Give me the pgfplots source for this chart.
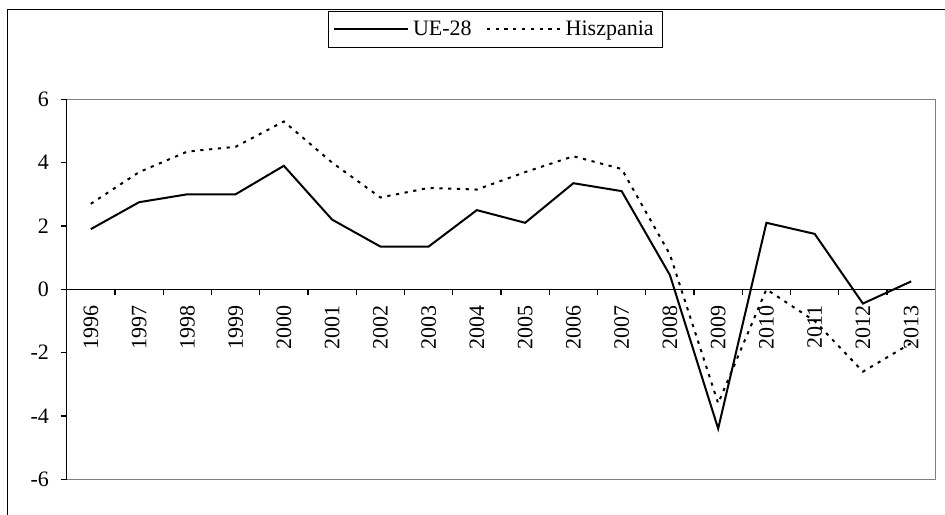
\documentclass[border=0pt]{standalone}
\usepackage{fontspec}
\setmainfont{Liberation Serif}
\usepackage{pgfplots}
\pgfplotsset{compat=1.18}
\begin{document}
\fontsize{11}{13.2}\selectfont
\begin{tikzpicture}[x=1pt,y=1pt]
\useasboundingbox (0,0) rectangle (472.5,-257);
\draw[line width=0.7pt] (3.65,-4.65) rectangle (490,-300);
\begin{axis}[
  at={(33.35pt,-239.65pt)}, anchor=south west,
  scale only axis, width=434.3pt, height=190pt,
  xmin=-0.5, xmax=17.5, ymin=-6, ymax=6,
  axis x line*=middle, axis y line*=left,
  axis line style={black, line width=0.6pt},
  /pgf/number format/assume math mode=true,
  ytick={-6,-4,...,6},
  xtick={0,...,17},
  xticklabels={1996,1997,1998,1999,2000,2001,2002,2003,2004,2005,2006,2007,2008,2009,2010,2011,2012,2013},
  minor xtick={0.5,1.5,...,17.5},
  major x tick style={draw=none},
  minor tick length=3pt, major tick length=3pt,
  tick align=outside,
  tick style={black, line width=0.6pt},
  xticklabel style={rotate=90, anchor=east, inner sep=1pt},
  xticklabel shift=4pt,
  yticklabel style={xshift=-2pt},
  legend style={at={(0.4935,1.1837)}, anchor=center, legend columns=2,
    draw=black, line width=0.5pt, inner sep=2.5pt,
    /tikz/every even column/.append style={column sep=5pt}},
  legend image code/.code={\draw[#1] (0pt,0pt) -- (37pt,0pt);},
  clip=false,
]
\draw[gray, line width=0.75pt] (rel axis cs:0,0) -- (rel axis cs:1,0) -- (rel axis cs:1,1) -- (rel axis cs:0,1);
\addplot[black, line width=1pt] coordinates {
(0,1.9) (1,2.75) (2,3.0) (3,3.0) (4,3.9) (5,2.2) (6,1.35) (7,1.35) (8,2.5) (9,2.1) (10,3.35) (11,3.1) (12,0.45) (13,-4.4) (14,2.1) (15,1.75) (16,-0.45) (17,0.25)};
\addlegendentry{UE-28}
\addplot[black, line width=1pt, dash pattern=on 1.6pt off 2.8pt] coordinates {
(0,2.7) (1,3.7) (2,4.35) (3,4.5) (4,5.3) (5,4.0) (6,2.9) (7,3.2) (8,3.15) (9,3.7) (10,4.2) (11,3.8) (12,1.1) (13,-3.6) (14,0.0) (15,-1.0) (16,-2.6) (17,-1.7)};
\addlegendentry{Hiszpania}
\end{axis}
\end{tikzpicture}
\end{document}
